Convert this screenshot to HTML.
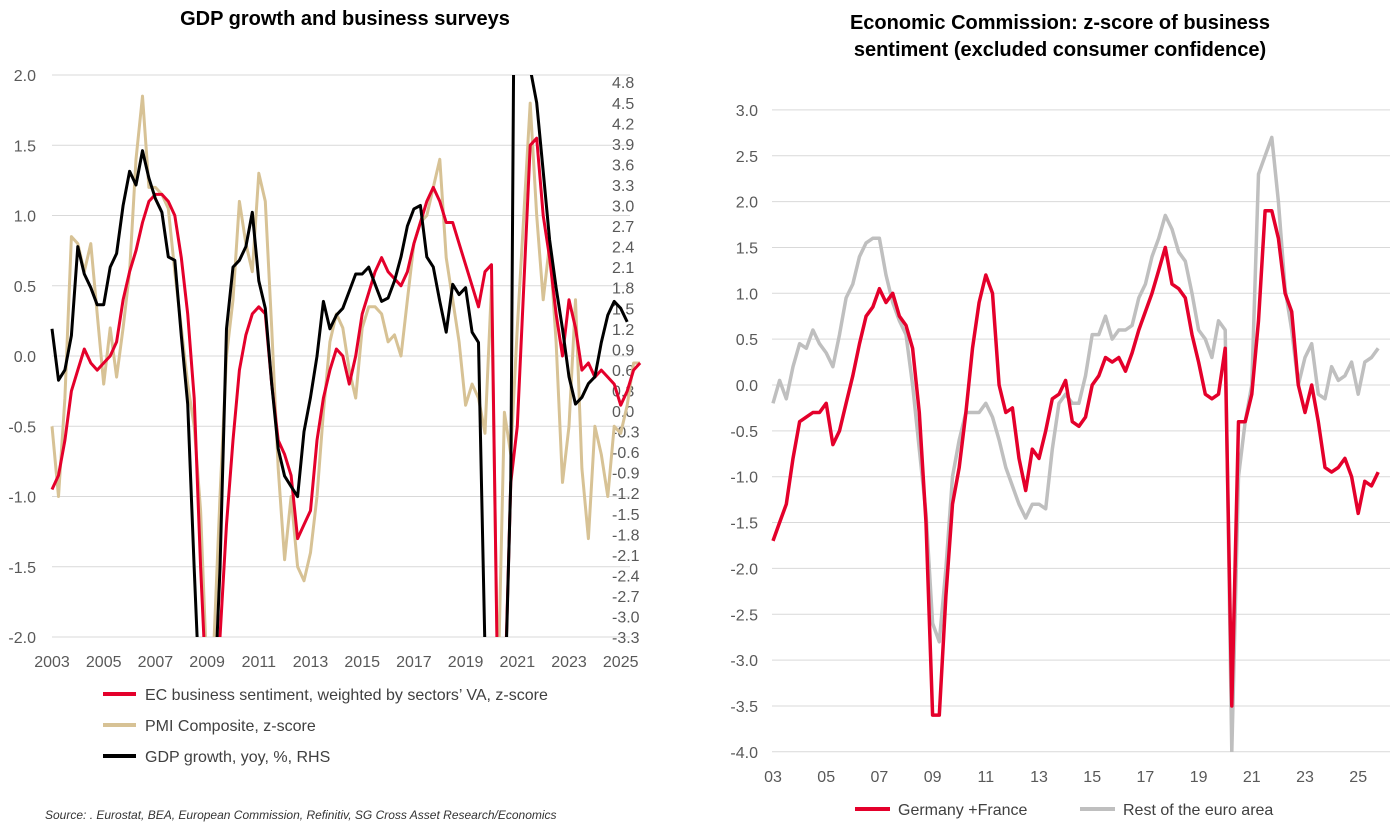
<!DOCTYPE html>
<html><head><meta charset="utf-8">
<style>
html,body{margin:0;background:#fff;width:1396px;height:829px;overflow:hidden;font-family:"Liberation Sans",sans-serif}
svg{position:absolute;left:0;top:0;display:block}
</style></head>
<body>
<svg id="c" width="1396" height="829"></svg>
<script>
const leftStart=2003, rightStart=2003;
const ecBusiness=[-0.95,-0.85,-0.6,-0.25,-0.1,0.05,-0.05,-0.1,-0.05,0.0,0.1,0.4,0.6,0.75,0.95,1.1,1.15,1.15,1.1,1.0,0.7,0.3,-0.3,-1.5,-2.5,-2.6,-2.0,-1.2,-0.6,-0.1,0.15,0.3,0.35,0.3,-0.2,-0.6,-0.7,-0.85,-1.3,-1.2,-1.1,-0.6,-0.3,-0.1,0.05,0.0,-0.2,0.0,0.3,0.45,0.6,0.7,0.6,0.55,0.5,0.6,0.8,0.95,1.1,1.2,1.1,0.95,0.95,0.8,0.65,0.5,0.35,0.6,0.65,-2.5,-2.5,-0.9,-0.5,0.5,1.5,1.55,1.0,0.7,0.3,0.0,0.4,0.2,-0.1,-0.05,-0.15,-0.1,-0.15,-0.2,-0.35,-0.25,-0.1,-0.05];
const pmiComposite=[-0.5,-1.0,-0.3,0.85,0.8,0.6,0.8,0.3,-0.2,0.2,-0.15,0.2,0.6,1.4,1.85,1.2,1.2,1.15,1.05,0.6,0.2,-0.2,-0.5,-1.1,-2.3,-2.1,-1.0,0.0,0.4,1.1,0.8,0.6,1.3,1.1,0.2,-0.8,-1.45,-1.0,-1.5,-1.6,-1.4,-1.0,-0.4,0.1,0.3,0.2,-0.1,-0.3,0.2,0.35,0.35,0.3,0.1,0.15,0.0,0.4,0.8,0.95,1.0,1.2,1.4,0.7,0.4,0.1,-0.35,-0.2,-0.3,-0.55,0.5,-2.4,-0.4,-0.7,0.2,1.0,1.8,1.0,0.4,0.8,0.1,-0.9,-0.5,0.4,-0.8,-1.3,-0.5,-0.7,-1.0,-0.5,-0.55,-0.35,-0.05,-0.05];
const gdpGrowth=[1.2,0.45,0.6,1.1,2.4,2.0,1.8,1.55,1.55,2.1,2.3,3.0,3.5,3.3,3.8,3.4,3.1,2.9,2.25,2.2,1.1,0.1,-2.3,-4.5,-5.5,-4.5,-2.3,1.2,2.1,2.2,2.4,2.9,1.9,1.5,0.4,-0.55,-0.95,-1.1,-1.25,-0.3,0.2,0.8,1.6,1.2,1.4,1.5,1.75,2.0,2.0,2.1,1.85,1.6,1.65,1.9,2.25,2.7,2.95,3.0,2.25,2.1,1.6,1.15,1.85,1.7,1.8,1.15,1.0,-3.5,-14,-4,-4.5,-1,13,5.5,5,4.5,3.5,2.5,1.8,1.2,0.5,0.1,0.2,0.4,0.5,1.0,1.4,1.6,1.5,1.3];
const leftTicks=["2.0","1.5","1.0","0.5","0.0","-0.5","-1.0","-1.5","-2.0"];
const rightTicks=["4.8","4.5","4.2","3.9","3.6","3.3","3.0","2.7","2.4","2.1","1.8","1.5","1.2","0.9","0.6","0.3","0.0","-0.3","-0.6","-0.9","-1.2","-1.5","-1.8","-2.1","-2.4","-2.7","-3.0","-3.3"];
const leftYears=["2003","2005","2007","2009","2011","2013","2015","2017","2019","2021","2023","2025"];
const germanyFrance=[-1.7,-1.5,-1.3,-0.8,-0.4,-0.35,-0.3,-0.3,-0.2,-0.65,-0.5,-0.2,0.1,0.45,0.75,0.85,1.05,0.9,1.0,0.75,0.65,0.4,-0.3,-1.5,-3.6,-3.6,-2.3,-1.3,-0.9,-0.3,0.4,0.9,1.2,1.0,0.0,-0.3,-0.25,-0.8,-1.15,-0.7,-0.8,-0.5,-0.15,-0.1,0.05,-0.4,-0.45,-0.35,0.0,0.1,0.3,0.25,0.3,0.15,0.35,0.6,0.8,1.0,1.25,1.5,1.1,1.05,0.95,0.55,0.25,-0.1,-0.15,-0.1,0.4,-3.5,-0.4,-0.4,-0.1,0.7,1.9,1.9,1.6,1.0,0.8,0.0,-0.3,0.0,-0.4,-0.9,-0.95,-0.9,-0.8,-1.0,-1.4,-1.05,-1.1,-0.95];
const restEuro=[-0.2,0.05,-0.15,0.2,0.45,0.4,0.6,0.45,0.35,0.2,0.55,0.95,1.1,1.4,1.55,1.6,1.6,1.2,0.9,0.7,0.55,0.0,-0.7,-1.4,-2.6,-2.8,-2.0,-1.0,-0.6,-0.3,-0.3,-0.3,-0.2,-0.35,-0.6,-0.9,-1.1,-1.3,-1.45,-1.3,-1.3,-1.35,-0.7,-0.2,-0.1,-0.2,-0.2,0.1,0.55,0.55,0.75,0.5,0.6,0.6,0.65,0.95,1.1,1.4,1.6,1.85,1.7,1.45,1.35,1.0,0.6,0.5,0.3,0.7,0.6,-4.0,-1.0,-0.4,0.0,2.3,2.5,2.7,2.0,1.05,0.6,0.0,0.3,0.45,-0.1,-0.15,0.2,0.05,0.1,0.25,-0.1,0.25,0.3,0.4];
const rightTicksY=["3.0","2.5","2.0","1.5","1.0","0.5","0.0","-0.5","-1.0","-1.5","-2.0","-2.5","-3.0","-3.5","-4.0"];
const rightYears=["03","05","07","09","11","13","15","17","19","21","23","25"];

const NS="http://www.w3.org/2000/svg";
const svg=document.getElementById('c');
function mk(tag,attrs,parent){const e=document.createElementNS(NS,tag);for(const k in attrs)e.setAttribute(k,attrs[k]);(parent||svg).appendChild(e);return e;}
function txt(s,x,y,anchor,size,fill,weight,parent){const t=mk('text',{x:x,y:y,'text-anchor':anchor,'font-size':size,fill:fill,'font-weight':weight||'normal','font-family':'Liberation Sans, sans-serif'},parent);t.textContent=s;return t;}

const defs=mk('defs',{});
const cl1=mk('clipPath',{id:'clipL'},defs);mk('rect',{x:45,y:75,width:600,height:562},cl1);
const cl2=mk('clipPath',{id:'clipR'},defs);mk('rect',{x:765,y:110,width:630,height:642},cl2);

const lx=y=>52+(y-2003)*25.85;
const ly=v=>356-v*140.5;
const ry=v=>411-v*(20.55/0.3);
leftTicks.forEach(s=>{const v=parseFloat(s);
 const g=mk('line',{x1:52,x2:630,y1:ly(v),y2:ly(v),stroke:'#d9d9d9','stroke-width':1});
 
 const t=txt(s,36,ly(v)+6,'end',16,'#595959');
 });
rightTicks.forEach(s=>{const v=parseFloat(s);
 const t=txt(s,612,ry(v)+6,'start',16,'#595959');
 });
leftYears.forEach(s=>{const t=txt(s,lx(+s),667,'middle',16,'#595959');
 });
function series(arr,start,xf,yf,color,clip,name,w){
 const pts=arr.map((v,i)=>xf(start+i/4).toFixed(1)+','+yf(v).toFixed(1)).join(' ');
 const p=mk('polyline',{points:pts,fill:'none',stroke:color,'stroke-width':w||3,'stroke-linejoin':'round','clip-path':'url(#'+clip+')'});
 }
series(pmiComposite,leftStart,lx,ly,'#d7c295','clipL','pmi-composite-line');
series(ecBusiness,leftStart,lx,ly,'#e4002b','clipL','ec-business-sentiment-line');
series(gdpGrowth,leftStart,lx,ry,'#000','clipL','gdp-growth-line');

const t1=txt('GDP growth and business surveys',345,25,'middle',20,'#000','bold');

[['EC business sentiment, weighted by sectors\u2019 VA, z-score','#e4002b',694],['PMI Composite, z-score','#d7c295',725],['GDP growth, yoy, %, RHS','#000',756]].forEach(e=>{
 const l=mk('line',{x1:103,x2:136,y1:e[2],y2:e[2],stroke:e[1],'stroke-width':4});
 
 const t=txt(e[0],145,e[2]+6,'start',16,'#404040');
 });
const src=txt('Source: . Eurostat, BEA, European Commission, Refinitiv, SG Cross Asset Research/Economics',45,819,'start',12,'#333');
src.setAttribute('font-style','italic');


const rx=y=>773+(y-2003)*26.6;
const rry=v=>385-v*91.7;
rightTicksY.forEach(s=>{const v=parseFloat(s);
 const g=mk('line',{x1:772,x2:1390,y1:rry(v),y2:rry(v),stroke:'#d9d9d9','stroke-width':1});
 
 const t=txt(s,758,rry(v)+6,'end',16,'#595959');
 });
rightYears.forEach(s=>{const t=txt(s,rx(2000+ +s),782,'middle',16,'#595959');
 });
series(restEuro,rightStart,rx,rry,'#bfbfbf','clipR','rest-of-euro-area-line',3.5);
series(germanyFrance,rightStart,rx,rry,'#e4002b','clipR','germany-france-line',3.5);
const t2=txt('Economic Commission: z-score of business',1060,29,'middle',20,'#000','bold');

const t3=txt('sentiment (excluded consumer confidence)',1060,56,'middle',20,'#000','bold');

[['Germany +France','#e4002b',855],['Rest of the euro area','#bfbfbf',1080]].forEach(e=>{
 const l=mk('line',{x1:e[2],x2:e[2]+35,y1:809,y2:809,stroke:e[1],'stroke-width':4});
 
 const t=txt(e[0],e[2]+43,815,'start',16,'#404040');
 });
</script>
</body></html>
